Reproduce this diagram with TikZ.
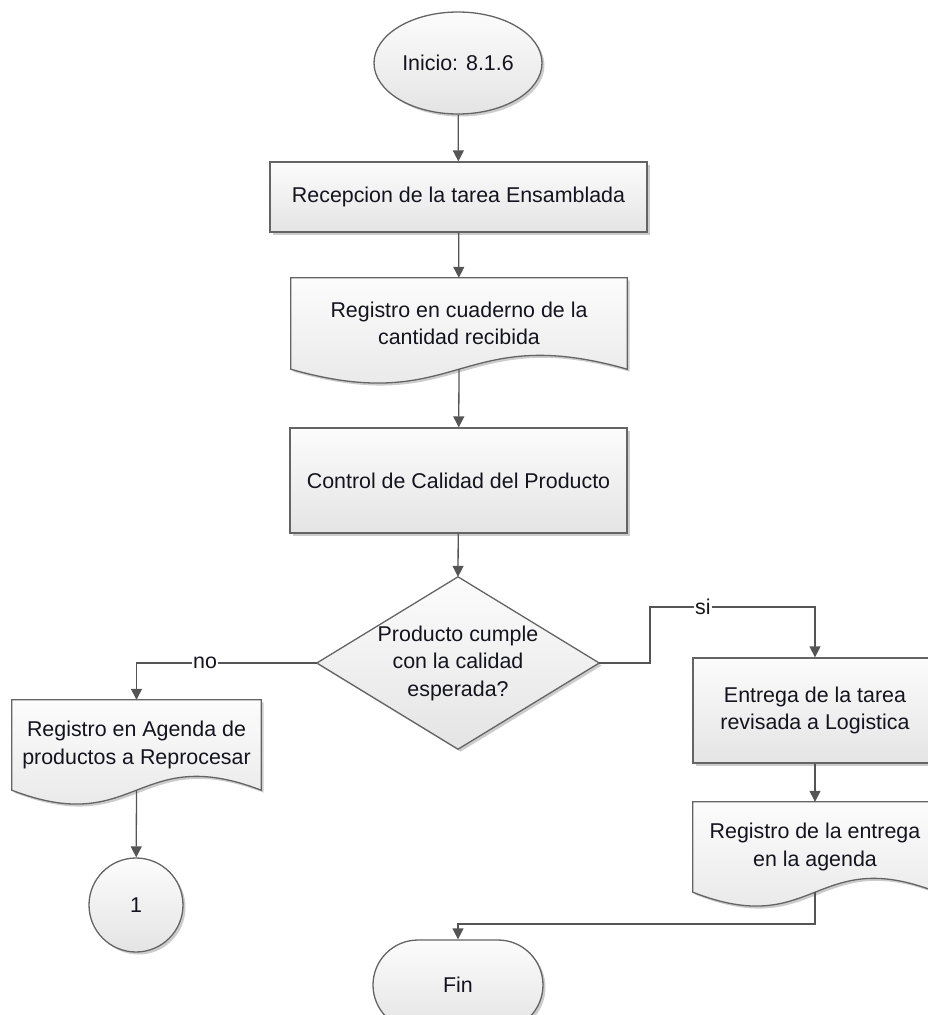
\documentclass[tikz,border=0pt]{standalone}
\usepackage{fontspec}
\setmainfont{Liberation Sans}
\usetikzlibrary{arrows.meta,shapes.geometric,shadows,calc}
\definecolor{edge}{RGB}{100,100,100}
\definecolor{wire}{RGB}{85,85,85}
\definecolor{shadetop}{RGB}{252,252,252}
\definecolor{shadebot}{RGB}{228,228,228}
\definecolor{ink}{RGB}{20,20,30}
\pgfdeclarelayer{bg}
\pgfsetlayers{bg,main}

\begin{document}
\begin{tikzpicture}[x=1pt,y=-1pt,
  txt/.style={font=\fontsize{21.4}{27.5}\selectfont, text=ink, align=center},
  skin/.style={draw=edge, line width=1.3pt, top color=shadetop, bottom color=shadebot,
    drop shadow={shadow xshift=2.5pt, shadow yshift=-2.5pt, opacity=0.2, fill=black}},
  holder/.style={txt, rectangle, inner sep=0pt, draw=none},
  procbox/.style={txt, skin, rectangle, inner sep=0pt},
  flow/.style={draw=wire, line width=1.3pt, -{Triangle[length=11pt,width=11pt]}},
  tag/.style={txt, fill=white, inner sep=1pt}
]
\useasboundingbox (0,0) rectangle (928,1015);
\clip (0,0) rectangle (928,1015);

% main column
\node[procbox, ellipse, minimum width=168pt, minimum height=102pt] (start) at (458,63) {Inicio: 8.1.6};
\node[procbox, minimum width=377pt, minimum height=70pt] (recep) at (458.5,197) {Recepcion de la tarea Ensamblada};
\node[holder, minimum width=336pt, minimum height=91pt] (cuad) at (459,323.5) {Registro en cuaderno de la\\cantidad recibida};
\node[procbox, minimum width=337pt, minimum height=105pt] (ctrl) at (458.5,480.5) {Control de Calidad del Producto};
\node[holder, minimum width=282pt, minimum height=172pt] (dec) at (458,663) {Producto cumple\\con la calidad\\esperada?};

% "no" branch
\node[holder, minimum width=249pt, minimum height=90pt] (agenda) at (136.5,745) {Registro en Agenda de\\productos a Reprocesar};
\node[procbox, circle, minimum size=94pt] (one) at (136,905) {1};

% "si" branch
\node[procbox, minimum width=244pt, minimum height=105pt] (entrega) at (815,710.5) {Entrega de la tarea\\revisada a Logistica};
\node[holder, minimum width=244pt, minimum height=90pt] (regent) at (815,847) {Registro de la entrega\\en la agenda};

% end
\node[procbox, rounded corners=45pt, minimum width=170pt, minimum height=90pt] (fin) at (458,985) {Fin};

% document and decision outlines behind their texts
\begin{pgfonlayer}{bg}
  \foreach \d in {cuad,agenda,regent}
    \path[skin] (\d.north west) -- (\d.north east) -- (\d.south east)
      .. controls ($(\d.south)+(0,-48)$) and ($(\d.south)+(0,48)$) .. (\d.south west) -- cycle;
  \path[skin] (dec.north) -- (dec.east) -- (dec.south) -- (dec.west) -- cycle;
\end{pgfonlayer}

% connectors
\draw[flow] (start) -- (recep);
\draw[flow] (recep) -- (cuad);
\draw[flow] (cuad.south) -- (ctrl);
\draw[flow] (ctrl) -- (dec.north);
\draw[flow] (dec.west) -| node[tag, pos=0.31] {no} (agenda.north);
\coordinate (siturn) at (650,607);
\draw[flow] (dec.east) -| (siturn) -| node[tag, pos=0.16] {si} (entrega.north);
\draw[flow] (entrega) -- (regent);
\draw[flow] (agenda.south) -- (one);
\coordinate (join) at (815,924);
\draw[flow] (regent.south) -- (join) -| (fin.north);
\end{tikzpicture}
\end{document}
